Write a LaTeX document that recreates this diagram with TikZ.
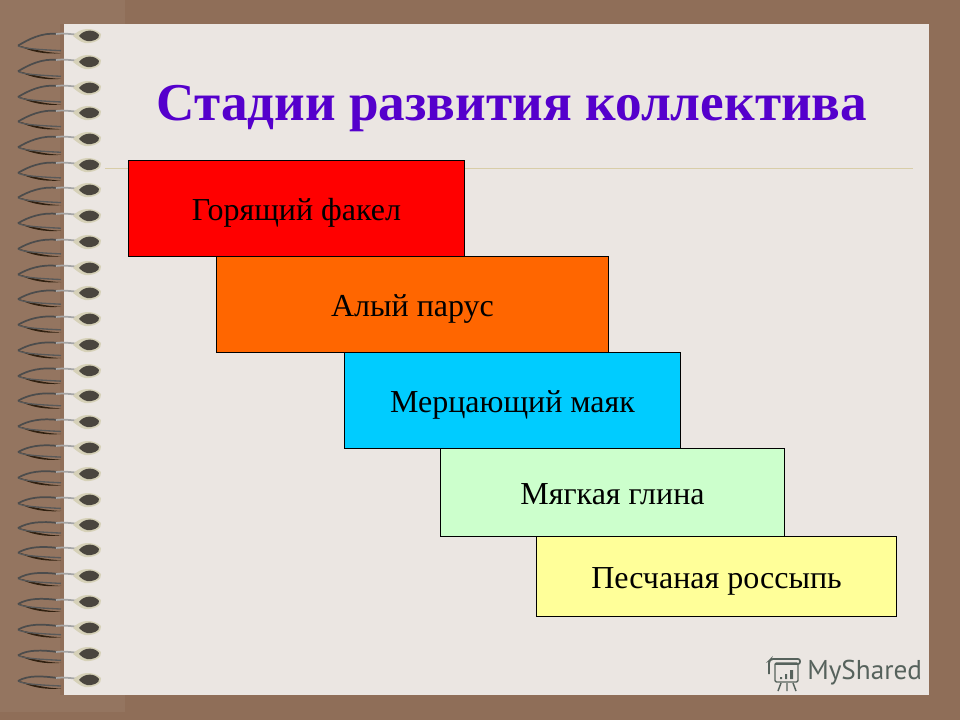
\documentclass[tikz,border=0pt]{standalone}
\usepackage{fontspec}
\setmainfont{Liberation Serif}
\newfontfamily\logofont{PT Sans}
\definecolor{wallbrown}{HTML}{8F6E58}
\definecolor{wallpale}{HTML}{947560}
\definecolor{pagegrey}{HTML}{EBE6E2}
\definecolor{titleviolet}{HTML}{5500CC}
\definecolor{rulesand}{HTML}{D8CDA8}
\definecolor{logogrey}{HTML}{56625C}
\definecolor{beadpale}{HTML}{D6D1B8}
\definecolor{beaddark}{HTML}{4A453E}
\tikzset{
    stage/.style={draw=black, line width=0.6pt, inner sep=0pt, text height=18.5pt, text depth=0pt, font=\fontsize{24}{28}\selectfont},
}
\begin{document}
\begin{tikzpicture}[x=0.75pt, y=-0.75pt]
    \useasboundingbox (0,0) rectangle (960,720);

    \fill[wallbrown] (0,0) rectangle (960,720);
    \fill[wallpale] (0,0) rectangle (125,24);
    \fill[wallpale] (0,695) rectangle (125,712);
    \fill[wallpale] (0,24) rectangle (60,695);
    \fill[pagegrey] (64,24) rectangle (929,695);
    \draw[rulesand, line width=0.6pt] (105,168) -- (913,168);

    \node (title) at (512,109) {\fontsize{39.9}{48}\selectfont\bfseries\color{titleviolet}Стадии развития коллектива};

    \node[stage, fill=red, minimum width=252.5pt, minimum height=72pt] (fakel) at (296.5,208) {Горящий факел};
    \node[stage, fill={rgb,255:red,255;green,102;blue,0}, minimum width=294.5pt, minimum height=72pt] (parus) at (412.5,304.5) {Алый парус};
    \node[stage, fill={rgb,255:red,0;green,204;blue,255}, minimum width=252.5pt, minimum height=72pt] (mayak) at (512.5,400.5) {Мерцающий маяк};
    \node[stage, fill={rgb,255:red,204;green,255;blue,204}, minimum width=258.5pt, minimum height=66pt] (glina) at (612.5,492.5) {Мягкая глина};
    \node[stage, fill={rgb,255:red,255;green,255;blue,153}, minimum width=270.5pt, minimum height=60pt] (rossyp) at (716.5,576.5) {Песчаная россыпь};

    % spiral binding
    \foreach \y [count=\i] in {36,62,88,113,139,165,190,216,242,268,293,319,345,371,396,422,448,474,500,525,550,576,602,628,654,680} {
        \pgfmathsetmacro{\off}{10-9*\i/26}
        \fill[black!75!brown] (19,\y+\off) .. controls (35,\y+\off+4) and (45,\y+\off+7) .. (61,\y+\off+7.5) .. controls (45,\y+\off+9) and (30,\y+\off+6) .. (19,\y+\off) -- cycle;
        \draw[black!65, line width=1pt] (61,\y+\off+5) .. controls (40,\y+\off+4) and (22,\y+\off+3) .. (18,\y+\off);
        \draw[black!70, line width=1.3pt] (18,\y+\off) .. controls (28,\y+\off-6) and (42,\y-4) .. (58,\y-2);
        \draw[black!35, line width=1.3pt] (56,\y-2) .. controls (62,\y-3) and (70,\y-2) .. (80,\y-1);
        \fill[beadpale] (73,\y) .. controls (80,\y-9) and (94,\y-9) .. (101,\y-2) .. controls (103,\y+4) and (92,\y+8) .. (85,\y+7) .. controls (80,\y+6) and (76,\y+2) .. (73,\y) -- cycle;
        \fill[beaddark] (79,\y) .. controls (84,\y-7) and (95,\y-7) .. (99,\y-1) .. controls (100,\y+3) and (92,\y+6) .. (87,\y+5) .. controls (83,\y+4) and (81,\y+2) .. (79,\y) -- cycle;
    }

    % logo
    \node[anchor=west, inner sep=0pt, text=logogrey] (logo) at (807,673) {\logofont\fontsize{20.4}{24}\selectfont MyShared};
    \draw[logogrey, line width=1.1pt, rounded corners=1pt] (775,663) rectangle (798,682);
    \draw[logogrey, line width=1.3pt, rounded corners=1.5pt] (769,674) -- (769,661) -- (771,659) -- (800,659) -- (800,664) -- (775,664);
    \fill[logogrey] (780,677) rectangle (782,679) (785,674) rectangle (787,679) (790,670) rectangle (793,679);
    \draw[logogrey, line width=1.1pt] (781,683) -- (778,691) (787,683) -- (787,691) (793,683) -- (796,691);
\end{tikzpicture}
\end{document}
